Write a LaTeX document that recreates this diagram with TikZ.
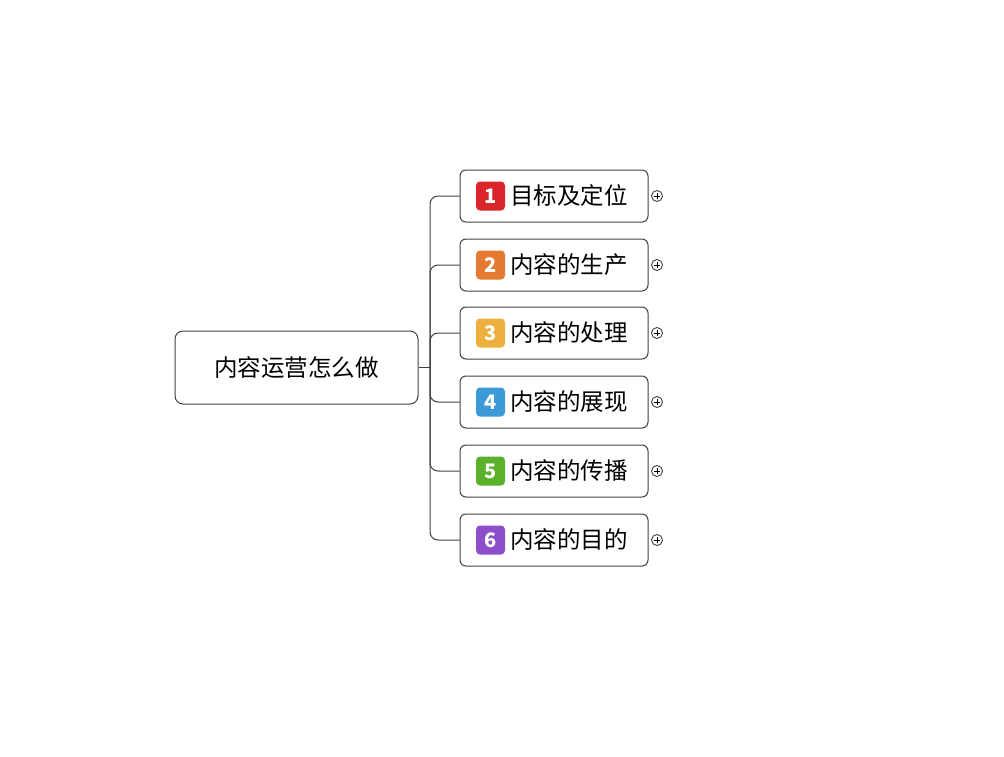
\documentclass[tikz,border=0pt]{standalone}
\usepackage{fontspec}
\setmainfont{Noto Sans CJK SC}
\usetikzlibrary{calc}
\definecolor{c1}{HTML}{D9262A}
\definecolor{c2}{HTML}{E57B33}
\definecolor{c3}{HTML}{EDB03E}
\definecolor{c4}{HTML}{3C9AD8}
\definecolor{c5}{HTML}{5BB12A}
\definecolor{c6}{HTML}{8D4FC9}
\tikzset{
  rootbox/.style={draw=black!75, line width=1pt, rounded corners=8pt, minimum width=243pt, minimum height=73pt, font=\fontsize{23.5}{26}\selectfont},
  childbox/.style={draw=black!75, line width=1pt, rounded corners=6pt, minimum width=188pt, minimum height=52pt},
  numicon/.style={fill=#1, rounded corners=4pt, minimum size=29pt, inner sep=0pt, text=white, font=\fontsize{20}{22}\selectfont\bfseries},
  childtext/.style={anchor=west, inner sep=0pt, font=\fontsize{23.5}{26}\selectfont},
  plusmark/.style={draw=black!75, circle, minimum size=11pt, inner sep=0pt, line width=0.9pt},
  conn/.style={draw=black!75, line width=1pt, rounded corners=8pt}
}
\begin{document}
\begin{tikzpicture}[x=1pt,y=-1pt]
\useasboundingbox (0,0) rectangle (1004,757);
\node[rootbox] (root) at (296.5,367.5) {内容运营怎么做};
\coordinate (trunk) at (430,367.5);
\foreach \i/\y/\t in {1/196/目标及定位,2/265/内容的生产,3/333/内容的处理,4/402/内容的展现,5/471/内容的传播,6/540/内容的目的}{
  \node[childbox] (ch\i) at (554,\y) {};
  \node[numicon=c\i] (ic\i) at (490.5,\y) {\i};
  \node[childtext] (tx\i) at (510,\y) {\t};
  \node[plusmark] (pl\i) at (657,\y) {};
  \draw[line width=0.9pt] ($(pl\i)+(-3,0)$) -- ($(pl\i)+(3,0)$) ($(pl\i)+(0,-3)$) -- ($(pl\i)+(0,3)$);
  \draw[conn] (trunk) |- (ch\i.west);
}
\draw[conn] (root.east) -- (trunk);
\end{tikzpicture}
\end{document}
